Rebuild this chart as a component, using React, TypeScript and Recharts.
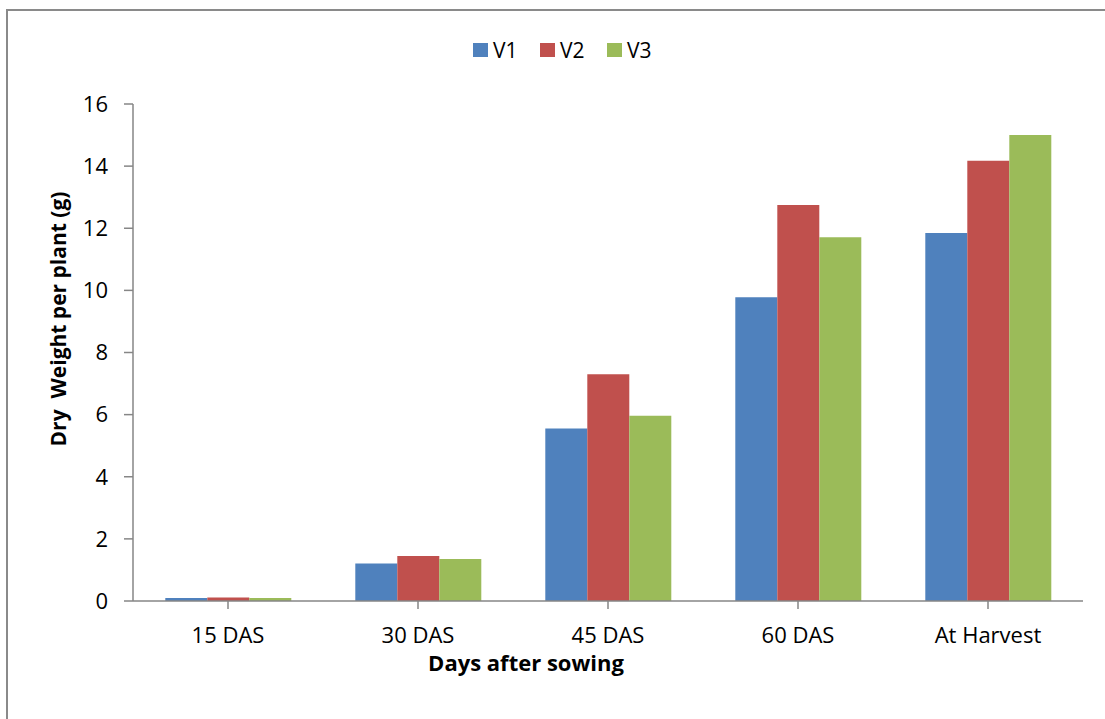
import React from 'react';
import { BarChart, Bar, XAxis, YAxis, Legend } from 'recharts';

const categories = ['15 DAS', '30 DAS', '45 DAS', '60 DAS', 'At Harvest'];
const v1Values = [0.1, 1.21, 5.55, 9.78, 11.85];
const v2Values = [0.11, 1.45, 7.3, 12.75, 14.17];
const v3Values = [0.1, 1.35, 5.96, 11.71, 15.0];
const yTicks = [0, 2, 4, 6, 8, 10, 12, 14, 16];
const seriesNames = ['V1', 'V2', 'V3'];
const seriesColors = ['#4F81BD', '#C0504D', '#9BBB59'];

const data = categories.map((c, i) => ({
  name: c,
  V1: v1Values[i],
  V2: v2Values[i],
  V3: v3Values[i],
}));

const FONT = '"Open Sans", "Noto Sans", sans-serif';
const AXIS_COLOR = '#868686';

const LegendContent = () => (
  <div style={{ display: 'flex', alignItems: 'center', marginLeft: 473, fontFamily: FONT, fontSize: 21, color: '#000' }}>
    {seriesNames.map((n, i) => (
      <div key={n} style={{ display: 'flex', alignItems: 'center', marginRight: i < 2 ? 20 : 0 }}>
        <span style={{ display: 'inline-block', width: 15, height: 14, background: seriesColors[i], marginRight: 5 }} />
        <span style={{ lineHeight: '20px', width: 27 }}>{n}</span>
      </div>
    ))}
  </div>
);

export default function App() {
  return (
    <div style={{ position: 'absolute', left: 0, top: 0, width: 1105, height: 719, background: '#fff', overflow: 'hidden' }}>
      <div style={{ position: 'absolute', left: 6, top: 9, width: 1200, height: 800, borderLeft: '2px solid #8a8a8a', borderTop: '2px solid #8a8a8a' }} />
      <BarChart
        width={1105}
        height={719}
        data={data}
        margin={{ top: 104, right: 22, bottom: 88, left: 0 }}
        barCategoryGap="17%"
        barGap={0}
      >
        <XAxis
          dataKey="name"
          height={30}
          stroke={AXIS_COLOR}
          strokeWidth={1.5}
          tickSize={8}
          tickMargin={18}
          tick={{ fill: '#000', fontSize: 22, fontFamily: FONT }}
          tickLine={{ stroke: AXIS_COLOR, strokeWidth: 1.5 }}
        />
        <YAxis
          width={133}
          domain={[0, 16]}
          ticks={yTicks}
          interval={0}
          stroke={AXIS_COLOR}
          strokeWidth={1.5}
          tickSize={9}
          tickMargin={16}
          tick={{ fill: '#000', fontSize: 22, fontFamily: FONT }}
          tickLine={{ stroke: AXIS_COLOR, strokeWidth: 1.5 }}
        />
        <Legend
          layout="horizontal"
          verticalAlign="middle"
          align="center"
          content={<LegendContent />}
          wrapperStyle={{ top: 40, left: 0, width: 1105 }}
        />
        {seriesNames.map((n, i) => (
          <Bar key={n} dataKey={n} fill={seriesColors[i]} isAnimationActive={false} />
        ))}
      </BarChart>
      <div style={{ position: 'absolute', left: 326, top: 652, width: 400, textAlign: 'center', fontFamily: FONT, fontWeight: 700, fontSize: 22, lineHeight: '20px', color: '#000' }}>
        Days after sowing
      </div>
      <div style={{ position: 'absolute', left: 58, top: 319, width: 0, height: 0 }}>
        <div style={{ position: 'absolute', left: -200, top: -14, width: 400, textAlign: 'center', transform: 'rotate(-90deg)', fontFamily: FONT, fontWeight: 700, fontSize: 21, lineHeight: '28px', color: '#000', whiteSpace: 'nowrap' }}>
          Dry&nbsp; Weight per plant (g)
        </div>
      </div>
    </div>
  );
}
